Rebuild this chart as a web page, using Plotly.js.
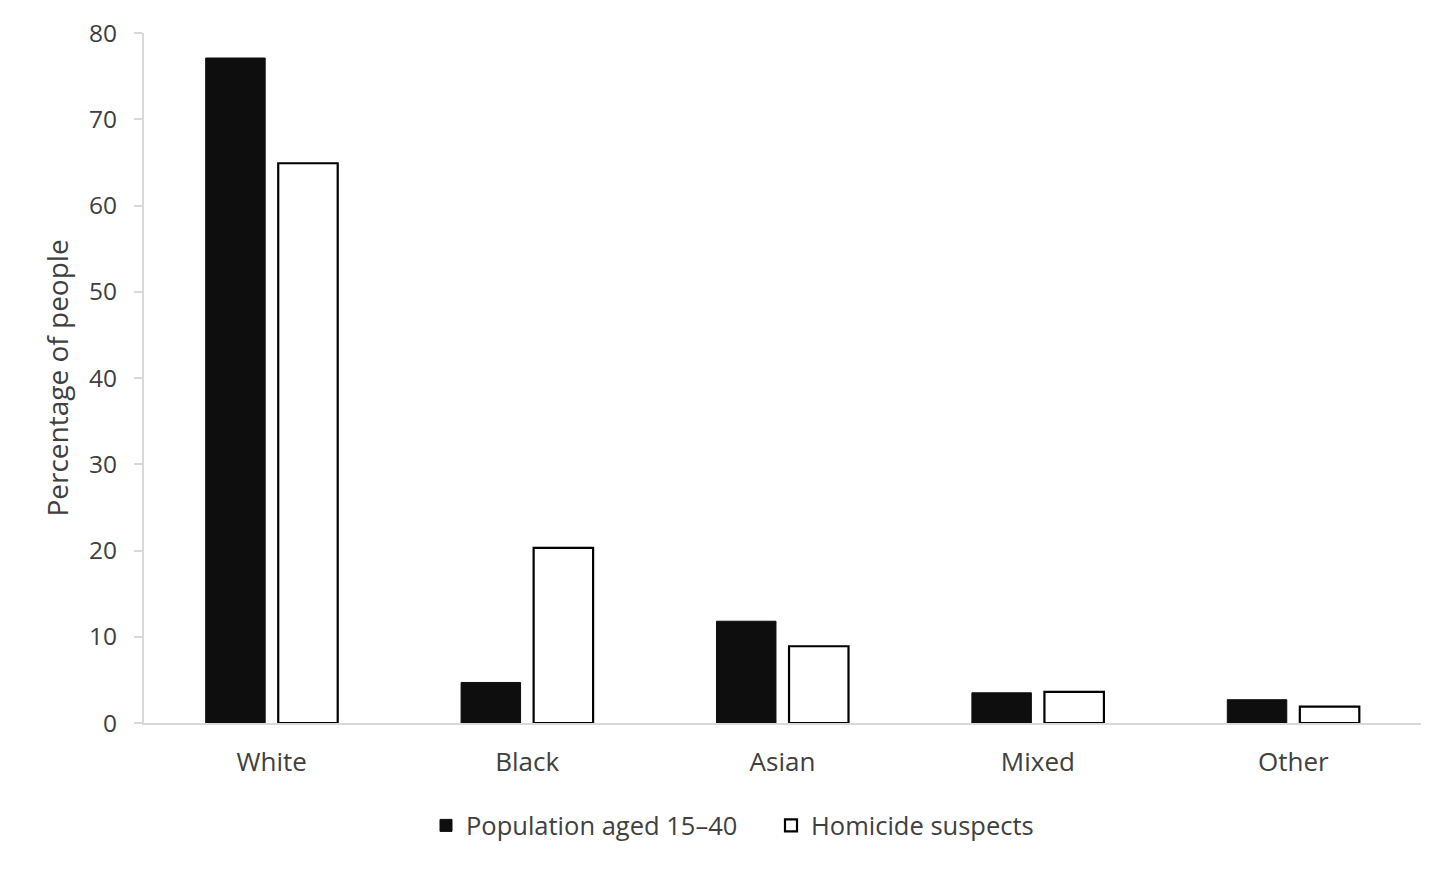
<!DOCTYPE html>
<html>
<head>
<meta charset="utf-8">
<script src="https://cdn.plot.ly/plotly-3.0.1.min.js"></script>
<style>html,body{margin:0;padding:0;background:#fff;}#chart{width:1456px;height:873px;}</style>
</head>
<body>
<div id="chart"></div>
<script>
const categories = ["White", "Black", "Asian", "Mixed", "Other"];
const population = [77.1, 4.7, 11.8, 3.5, 2.7];
const suspects = [64.9, 20.3, 8.9, 3.6, 1.9];
const yTicks = [0, 10, 20, 30, 40, 50, 60, 70, 80];

const font = "'Open Sans', sans-serif";
const txt = "#404040";
const traces = [
  {type: "bar", name: "Population aged 15\u201340", x: categories, y: population,
   marker: {color: "#0e0e0e", line: {color: "#0e0e0e", width: 1}}},
  {type: "bar", name: "Homicide suspects", x: categories, y: suspects,
   marker: {color: "#ffffff", line: {color: "#000000", width: 2.2}}}
];
const layout = {
  width: 1456, height: 873,
  margin: {l: 144, r: 35, t: 33, b: 150},
  paper_bgcolor: "#fff", plot_bgcolor: "#fff",
  font: {family: font, size: 24, color: txt},
  barmode: "group", bargap: 0.432, bargroupgap: 0.18,
  showlegend: true,
  legend: {orientation: "h", x: 0.491, xanchor: "center", y: -0.149, yanchor: "middle",
           font: {family: font, size: 25.5, color: txt}, itemwidth: 30, traceorder: "normal",
           entrywidth: 300, entrywidthmode: "pixels"},
  xaxis: {showline: true, linecolor: "#d9d9d9", linewidth: 2, ticks: "", showgrid: false,
          zeroline: false, tickfont: {size: 26, color: txt}, ticklabelstandoff: 15},
  yaxis: {range: [0, 80], tickvals: yTicks, showline: true, linecolor: "#d9d9d9", linewidth: 2,
          ticks: "outside", ticklen: 8, tickcolor: "#d9d9d9", tickwidth: 2, showgrid: false, zeroline: false,
          tickfont: {size: 24.5, color: txt}, ticklabelstandoff: 12,
          title: {text: "Percentage of people", font: {size: 28, color: txt}, standoff: 12}}
};
Plotly.newPlot("chart", traces, layout, {displayModeBar: false});
</script>
</body>
</html>
